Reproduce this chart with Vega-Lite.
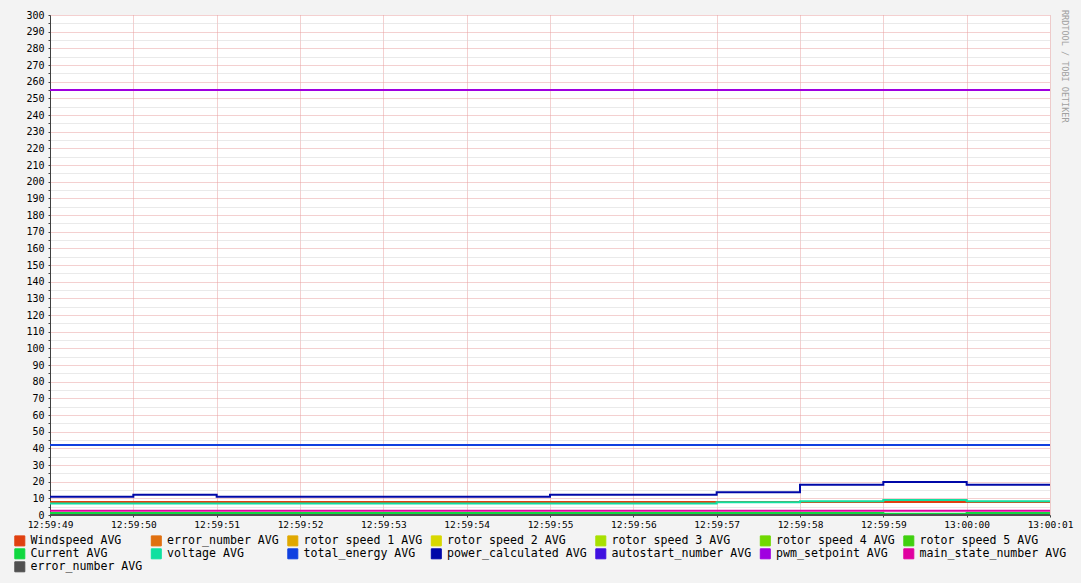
{
  "$schema": "https://vega.github.io/schema/vega-lite/v6.json",
  "width": 1000,
  "height": 500,
  "autosize": {"type": "none"},
  "padding": {"left": 50, "top": 15, "right": 31, "bottom": 68},
  "background": "#f3f3f3",
  "title": {
    "text": "RRDTOOL / TOBI OETIKER",
    "orient": "right",
    "anchor": "start",
    "font": "DejaVu Sans Mono",
    "fontSize": 8.5,
    "fontWeight": "normal",
    "color": "#a0a0a0",
    "offset": -12
  },
  "config": {
    "view": {"fill": "white", "stroke": null},
    "font": "DejaVu Sans Mono"
  },
  "data": {
    "values": [
      {"t": "2024-01-01T12:59:49", "s": "Windspeed AVG", "v": 7.8},
      {"t": "2024-01-01T13:00:01", "s": "Windspeed AVG", "v": 7.8},
      {"t": "2024-01-01T12:59:49", "s": "error_number AVG", "v": 0},
      {"t": "2024-01-01T13:00:01", "s": "error_number AVG", "v": 0},
      {"t": "2024-01-01T12:59:49", "s": "rotor speed 1 AVG", "v": 0},
      {"t": "2024-01-01T13:00:01", "s": "rotor speed 1 AVG", "v": 0},
      {"t": "2024-01-01T12:59:49", "s": "rotor speed 2 AVG", "v": 0},
      {"t": "2024-01-01T13:00:01", "s": "rotor speed 2 AVG", "v": 0},
      {"t": "2024-01-01T12:59:49", "s": "rotor speed 3 AVG", "v": 0},
      {"t": "2024-01-01T13:00:01", "s": "rotor speed 3 AVG", "v": 0},
      {"t": "2024-01-01T12:59:49", "s": "rotor speed 4 AVG", "v": 0},
      {"t": "2024-01-01T13:00:01", "s": "rotor speed 4 AVG", "v": 0},
      {"t": "2024-01-01T12:59:49", "s": "rotor speed 5 AVG", "v": 0},
      {"t": "2024-01-01T13:00:01", "s": "rotor speed 5 AVG", "v": 0},
      {"t": "2024-01-01T12:59:49", "s": "Current AVG", "v": 1.2},
      {"t": "2024-01-01T12:59:59", "s": "Current AVG", "v": 0.7},
      {"t": "2024-01-01T13:00:00", "s": "Current AVG", "v": 1.2},
      {"t": "2024-01-01T13:00:01", "s": "Current AVG", "v": 1.2},
      {"t": "2024-01-01T12:59:49", "s": "voltage AVG", "v": 6.9},
      {"t": "2024-01-01T12:59:57", "s": "voltage AVG", "v": 7.7},
      {"t": "2024-01-01T12:59:58", "s": "voltage AVG", "v": 8.3},
      {"t": "2024-01-01T12:59:59", "s": "voltage AVG", "v": 9.0},
      {"t": "2024-01-01T13:00:00", "s": "voltage AVG", "v": 8.3},
      {"t": "2024-01-01T13:00:01", "s": "voltage AVG", "v": 8.3},
      {"t": "2024-01-01T12:59:49", "s": "total_energy AVG", "v": 42},
      {"t": "2024-01-01T13:00:01", "s": "total_energy AVG", "v": 42},
      {"t": "2024-01-01T12:59:49", "s": "power_calculated AVG", "v": 11.0},
      {"t": "2024-01-01T12:59:50", "s": "power_calculated AVG", "v": 12.2},
      {"t": "2024-01-01T12:59:51", "s": "power_calculated AVG", "v": 11.0},
      {"t": "2024-01-01T12:59:55", "s": "power_calculated AVG", "v": 12.2},
      {"t": "2024-01-01T12:59:57", "s": "power_calculated AVG", "v": 13.6},
      {"t": "2024-01-01T12:59:58", "s": "power_calculated AVG", "v": 18.2},
      {"t": "2024-01-01T12:59:59", "s": "power_calculated AVG", "v": 19.8},
      {"t": "2024-01-01T13:00:00", "s": "power_calculated AVG", "v": 18.2},
      {"t": "2024-01-01T13:00:01", "s": "power_calculated AVG", "v": 18.2},
      {"t": "2024-01-01T12:59:49", "s": "autostart_number AVG", "v": 0},
      {"t": "2024-01-01T13:00:01", "s": "autostart_number AVG", "v": 0},
      {"t": "2024-01-01T12:59:49", "s": "pwm_setpoint AVG", "v": 255},
      {"t": "2024-01-01T13:00:01", "s": "pwm_setpoint AVG", "v": 255},
      {"t": "2024-01-01T12:59:49", "s": "main_state_number AVG", "v": 2.5},
      {"t": "2024-01-01T13:00:01", "s": "main_state_number AVG", "v": 2.5},
      {"t": "2024-01-01T12:59:49", "s": "error_number AVG (2)", "v": 0},
      {"t": "2024-01-01T13:00:01", "s": "error_number AVG (2)", "v": 0}
    ]
  },
  "mark": {"type": "line", "interpolate": "step-after", "strokeWidth": 2},
  "encoding": {
    "x": {
      "field": "t",
      "type": "temporal",
      "title": null,
      "scale": {
        "domain": [
          {"year": 2024, "month": 1, "date": 1, "hours": 12, "minutes": 59, "seconds": 49},
          {"year": 2024, "month": 1, "date": 1, "hours": 13, "minutes": 0, "seconds": 1}
        ],
        "nice": false
      },
      "axis": {
        "format": "%H:%M:%S",
        "tickCount": 12,
        "labelFlush": false,
        "labelOverlap": false,
        "labelFont": "DejaVu Sans Mono",
        "labelFontSize": 9.5,
        "labelColor": "#000000",
        "labelPadding": 2,
        "tickSize": 2,
        "tickColor": "#404040",
        "domainColor": "#404040",
        "domainWidth": 1,
        "grid": true,
        "gridColor": "#e8a0a0",
        "gridDash": [1, 1],
        "gridWidth": 1
      }
    },
    "y": {
      "field": "v",
      "type": "quantitative",
      "title": null,
      "scale": {"domain": [0, 300], "nice": false, "zero": true},
      "axis": {
        "tickCount": 60,
        "labelExpr": "datum.value % 10 === 0 ? datum.label : ''",
        "labelFont": "DejaVu Sans Mono",
        "labelFontSize": 10,
        "labelColor": "#000000",
        "labelPadding": 4,
        "labelOverlap": false,
        "tickSize": 2,
        "tickColor": "#404040",
        "domainColor": "#404040",
        "domainWidth": 1,
        "grid": true,
        "gridColor": {"condition": {"test": "datum.value % 10 == 0", "value": "#e8a0a0"}, "value": "#d4d4d4"},
        "gridDash": [1, 1],
        "gridWidth": 1
      }
    },
    "color": {
      "field": "s",
      "type": "nominal",
      "scale": {
        "domain": ["Windspeed AVG", "error_number AVG", "rotor speed 1 AVG", "rotor speed 2 AVG", "rotor speed 3 AVG", "rotor speed 4 AVG", "rotor speed 5 AVG", "Current AVG", "voltage AVG", "total_energy AVG", "power_calculated AVG", "autostart_number AVG", "pwm_setpoint AVG", "main_state_number AVG", "error_number AVG (2)"],
        "range": ["#e04010", "#e07010", "#e0a800", "#d8d800", "#a8e000", "#70d800", "#40d010", "#10d840", "#10e0a0", "#1040e0", "#0008a8", "#4010e0", "#a000e0", "#e000a0", "#505050"]
      },
      "legend": {
        "title": null,
        "orient": "none",
        "legendX": -36,
        "legendY": 520,
        "direction": "horizontal",
        "columns": 7,
        "columnPadding": 5.5,
        "rowPadding": -2,
        "symbolType": "square",
        "symbolSize": 100,
        "labelOffset": 5,
        "labelFont": "DejaVu Sans Mono",
        "labelFontSize": 11.6,
        "labelColor": "#000000",
        "labelExpr": "datum.label == 'error_number AVG (2)' ? 'error_number AVG' : datum.label",
        "encode": {
          "symbols": {
            "update": {
              "fill": {"scale": "color", "field": "value"},
              "stroke": {"value": "#000000"},
              "strokeWidth": {"value": 1},
              "opacity": {"value": 1}
            }
          }
        }
      }
    }
  }
}
